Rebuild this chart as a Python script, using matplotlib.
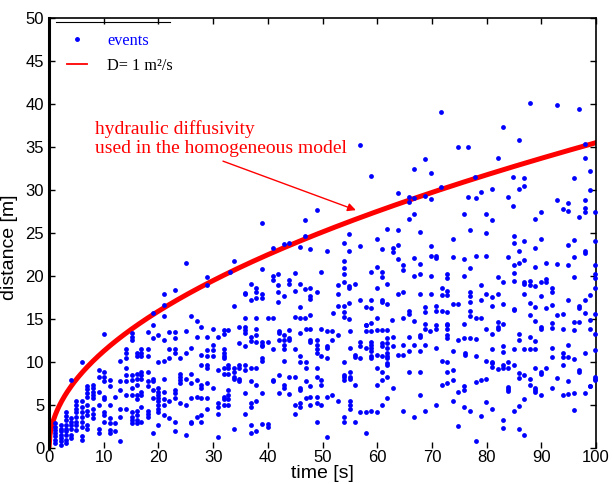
import numpy as np
import matplotlib.pyplot as plt
from matplotlib.lines import Line2D

plt.rcParams['font.family'] = 'Liberation Sans'

D = 1.0  # hydraulic diffusivity [m^2/s]

# events below ~14 m, grouped by time column [s] -> distances [m]
col_time = [1.1, 2.1, 3.1, 4.1, 5.0, 6.1, 7.0, 8.1, 9.2, 10.1,
            11.1, 12.0, 12.9, 14.0, 15.1, 16.0, 16.9, 18.1, 19.0, 20.0,
            21.0, 21.9, 23.0, 23.9, 25.0, 26.0, 27.0, 27.8, 28.9, 29.9,
            30.8, 31.9, 32.8, 33.9, 34.8, 35.8, 36.9, 37.8, 38.9, 40.0,
            41.0, 42.0, 42.9, 43.9, 45.0, 45.9, 46.9, 47.8, 48.9, 49.8,
            50.9, 51.8, 52.9, 53.9, 55.0, 55.9, 56.8, 57.9, 58.9, 59.9,
            60.9, 61.8, 62.8, 63.8, 64.8, 65.8, 66.8, 67.8, 68.8, 69.7,
            70.8, 71.8, 72.7, 73.8, 74.7, 75.8, 76.0, 77.0, 78.0, 79.0,
            79.9, 81.0, 82.0, 83.0, 83.9, 85.0, 85.9, 86.9, 88.0, 88.9,
            90.0, 90.9, 91.9, 92.9, 93.9, 94.9, 95.9, 96.9, 97.9, 98.9,
            99.9]
col_dist = [
    [2.8, 2.4, 2.0, 1.7, 1.3, 0.9, 0.5],
    [2.6, 2.2, 1.9, 1.5, 1.1, 0.7, 0.3],
    [4.1, 3.7, 3.2, 2.6, 2.2, 1.9, 1.5, 0.9, 0.5],
    [7.8, 3.4, 3.0, 2.6, 2.2, 1.5, 1.1],
    [5.4, 4.9, 4.5, 4.1, 3.6, 3.0, 2.6, 2.0],
    [9.9, 5.4, 4.7, 4.1, 3.6, 3.0, 2.4, 1.3, 0.9],
    [7.2, 6.8, 6.3, 5.9, 4.9, 4.3, 3.8, 2.6, 2.2],
    [7.3, 6.9, 6.5, 6.1, 5.8, 4.5, 3.9, 3.4],
    [9.0, 8.2, 6.5, 4.9, 2.2, 1.7],
    [13.2, 8.8, 8.2, 7.7, 5.9, 5.6, 4.1, 3.8, 3.0],
    [7.8, 7.1, 4.9, 3.4, 2.8, 2.0, 1.7],
    [5.9, 2.8, 1.9],
    [10.1, 7.7, 6.7, 4.5, 3.6, 0.7],
    [11.5, 11.0, 10.4, 9.2, 8.4, 7.7, 6.1, 4.5],
    [13.3, 12.9, 12.5, 8.4, 7.8, 6.9, 6.1, 4.1, 3.6, 3.2, 2.8],
    [11.0, 10.6, 8.6, 8.0, 7.3, 6.1, 5.6, 4.3, 3.8, 3.2, 2.8],
    [11.4, 11.0, 10.6, 8.8, 8.4, 8.0, 6.5, 6.1, 4.7, 3.0],
    [13.4, 11.4, 10.6, 8.8, 7.7, 7.1, 4.3, 3.9, 3.6],
    [14.2, 12.7, 8.0, 7.7, 6.7, 5.8, 1.7],
    [13.1, 9.9, 6.9, 6.5, 6.1, 5.8, 5.4, 4.9, 4.5, 4.1, 2.6],
    [12.5, 10.1, 8.0, 6.5, 5.6, 4.9, 3.8],
    [13.4, 11.4, 10.4, 5.4, 3.4],
    [13.4, 12.7, 11.4, 11.0, 6.7, 6.3, 5.8, 3.0, 1.9],
    [10.4, 8.6, 8.2, 7.8, 7.5, 5.2],
    [13.5, 11.0, 8.0, 4.9, 1.5],
    [11.6, 8.6, 7.5, 5.8, 3.0, 2.8],
    [12.9, 7.8, 5.9, 3.6],
    [14.0, 10.8, 9.6, 7.3, 6.9, 5.8, 3.8, 3.0],
    [12.9, 11.3, 10.6, 9.6, 9.2, 7.5, 5.8, 4.5],
    [13.8, 11.9, 11.3, 10.6, 6.9],
    [12.9, 9.0, 5.2, 4.7, 3.9, 1.2],
    [13.7, 13.2, 11.4, 11.0, 10.6, 10.4, 9.3, 8.6, 5.9, 5.6, 4.9],
    [13.7, 9.6, 9.2, 8.6, 6.7, 6.1, 5.6, 4.9],
    [9.2, 8.8, 8.2, 8.0, 2.2],
    [14.0, 12.1, 9.6, 9.2, 8.0, 7.7],
    [14.0, 13.7, 13.3, 11.8, 9.6, 9.0, 6.3, 3.9],
    [12.9, 12.4, 9.3, 7.7, 5.2, 4.7, 2.6, 1.7],
    [13.8, 13.1, 12.3, 9.2, 7.3, 5.4, 1.9],
    [12.3, 11.9, 11.8, 10.4, 10.1, 6.3, 2.7],
    [12.3, 2.7, 2.4],
    [11.4, 7.8, 7.7],
    [13.5, 13.3, 12.5, 8.4, 6.3],
    [13.1, 12.5, 11.9, 11.4, 10.1, 7.3, 6.9],
    [13.7, 12.7, 12.5, 8.2, 6.2],
    [11.4, 8.2, 4.9, 3.9],
    [13.3, 10.6, 9.9, 6.9, 6.7, 5.2, 4.7],
    [13.8, 9.9, 9.2, 7.7, 5.8],
    [13.8, 12.5, 12.3, 7.1, 5.9, 4.9],
    [12.5, 11.9, 11.4, 11.0, 9.2, 8.2, 5.9, 5.2, 3.0],
    [13.8, 10.6, 7.8, 7.3, 4.9],
    [13.5, 11.8, 11.6, 10.4, 5.9, 1.2],
    [13.5, 12.5, 6.1],
    [13.1, 5.4],
    [10.0, 8.4, 8.2, 7.8, 3.6, 3.0],
    [13.5, 11.6, 8.8, 8.2, 8.0, 5.4, 4.9, 4.5],
    [10.7, 10.5, 7.3, 3.0],
    [12.3, 11.8, 10.4, 4.1],
    [14.2, 13.5, 11.6, 4.1, 1.7],
    [13.5, 12.3, 11.9, 11.6, 11.2, 10.6, 10.4, 4.3],
    [13.7, 10.8, 9.2, 7.3, 4.1],
    [13.7, 12.1, 11.8, 10.6, 8.8, 7.8, 4.9],
    [13.7, 12.7, 12.1, 11.6, 11.0, 10.6, 10.4, 9.8, 9.6, 8.2, 5.8],
    [12.9, 11.8, 6.9],
    [10.8],
    [11.9, 10.8, 4.3],
    [12.9, 11.2, 8.8],
    [11.9, 3.6],
    [13.1, 12.9, 11.2, 8.8, 6.1],
    [13.8, 11.9, 4.2],
    [13.5],
    [13.8, 11.6, 4.9],
    [10.1, 7.3],
    [14.2, 13.8, 13.1, 12.7, 9.9, 8.8, 7.5],
    [11.2, 9.0, 7.8, 5.4],
    [12.5, 6.5, 2.5],
    [12.7, 7.1, 6.7, 4.7],
    [11.0, 10.8],
    [12.7, 4.2],
    [12.6, 10.6, 7.6, 0.7],
    [7.8, 3.7],
    [13.8, 10.1, 8.0, 5.3],
    [13.2, 11.5, 10.0, 9.8, 9.4, 4.5],
    [14.0, 13.8, 9.1],
    [11.8, 11.1, 9.6, 9.2, 3.2, 2.3],
    [9.9, 9.2, 7.0, 6.8, 6.6],
    [11.5, 9.6, 4.2],
    [13.2, 12.5, 8.7, 8.1, 4.8, 2.2],
    [11.4, 8.4, 5.6, 1.4],
    [12.8, 11.5, 8.0, 7.3],
    [12.4, 11.5, 9.2, 6.9, 6.7, 6.5],
    [14.0, 13.8, 8.8, 8.6, 6.1],
    [9.2],
    [13.9, 11.6, 10.5, 6.9],
    [8.1],
    [13.8, 11.0, 10.5, 9.6, 6.1],
    [11.9, 10.5, 7.7, 6.2],
    [13.7, 10.3, 6.3, 4.4],
    [9.0, 8.8],
    [11.0, 6.3],
    [13.8, 7.2, 7.1],
    [13.2, 11.3, 8.2, 8.0, 7.9],
]

# events above ~14 m as (time [s], distance [m])
upper_events = [
    (19.0, 15.6), (21.0, 17.9), (21.0, 16.6), (21.0, 15.3), (23.0, 18.3),
    (25.1, 21.4), (26.0, 15.3), (27.0, 14.7), (28.9, 19.8), (28.9, 18.9),
    (33.0, 20.4), (33.9, 21.7), (33.9, 16.5), (35.9, 18.0), (35.9, 17.8),
    (35.9, 15.1), (36.9, 19.0), (36.9, 17.1), (37.9, 18.5), (37.9, 18.1),
    (37.9, 17.4), (37.9, 15.1), (38.9, 26.1), (38.9, 20.8), (38.9, 17.9),
    (38.9, 17.4), (40.0, 15.1), (40.9, 23.2), (40.9, 19.9), (40.9, 19.5),
    (40.9, 15.1), (41.9, 20.2), (41.9, 18.9), (41.9, 18.1), (41.9, 16.9),
    (42.9, 23.7), (42.9, 17.6), (43.9, 23.8), (43.9, 19.5), (43.9, 19.0),
    (44.9, 20.3), (44.9, 18.2), (44.9, 15.2), (45.9, 23.3), (45.9, 19.0),
    (45.9, 16.3), (45.9, 15.1), (46.8, 26.4), (46.8, 24.6), (46.8, 18.4),
    (46.8, 15.1), (47.8, 23.1), (47.8, 18.6), (47.8, 17.6), (47.8, 17.3),
    (47.8, 15.4), (48.9, 27.6), (48.9, 18.1), (49.8, 20.4), (50.9, 22.8),
    (56.8, 35.2), (58.9, 31.6), (63.8, 29.6), (65.8, 29.1), (65.8, 28.6),
    (66.8, 32.4), (66.8, 29.0), (68.8, 33.6), (68.8, 29.2), (69.8, 31.9),
    (69.8, 28.9), (71.7, 39.0), (71.7, 30.3), (74.7, 34.9), (76.6, 34.9),
    (76.6, 29.1),
    (66.8, 27.2), (65.8, 26.6), (75.8, 27.1), (54.8, 24.8), (61.8, 25.4),
    (63.8, 25.3), (67.8, 25.1), (53.9, 23.8), (59.9, 24.2), (56.8, 23.4),
    (54.8, 22.9), (60.8, 23.1), (62.8, 23.2), (62.8, 22.7), (63.8, 23.5),
    (73.8, 24.2), (69.8, 23.4), (69.8, 22.3), (70.8, 22.3), (70.8, 22.0),
    (63.8, 21.9), (66.8, 22.0), (73.8, 22.2), (75.8, 21.9), (53.9, 21.7),
    (53.9, 20.9), (53.9, 20.2), (64.8, 21.2), (64.8, 20.6), (67.8, 21.3),
    (59.9, 21.0), (58.9, 20.4), (60.8, 20.4), (60.8, 19.8), (66.8, 19.9),
    (67.8, 20.2), (69.8, 20.0), (72.7, 20.2), (72.7, 19.7), (75.8, 20.0),
    (52.9, 18.9), (53.9, 19.3), (54.8, 18.8), (54.8, 18.6), (55.9, 19.0),
    (59.9, 18.6), (61.8, 19.0), (71.8, 18.5), (72.7, 18.2), (71.8, 17.7),
    (72.7, 17.7), (52.9, 17.9), (63.8, 17.9), (64.8, 18.1), (67.8, 17.9),
    (69.8, 17.9), (58.9, 17.2), (56.8, 17.1), (60.8, 17.2), (60.8, 16.9),
    (61.8, 16.7), (54.8, 16.8), (52.9, 16.4), (53.9, 16.5), (57.9, 16.3),
    (58.9, 16.2), (65.8, 15.9), (65.8, 15.5), (64.8, 15.1), (68.8, 16.3),
    (68.8, 15.7), (70.8, 16.5), (70.8, 15.9), (71.8, 15.9), (72.7, 15.8),
    (73.8, 16.7), (74.7, 16.7), (51.9, 15.6), (53.9, 15.7), (53.9, 15.2),
    (54.8, 15.0), (57.9, 14.3), (58.9, 14.5), (59.9, 15.1), (62.7, 14.8),
    (66.8, 14.7), (68.8, 14.4), (70.8, 14.3), (72.7, 14.4), (75.8, 14.4),
    (88.0, 40.1), (92.9, 39.8), (96.9, 39.4), (83.0, 37.3), (85.9, 35.8),
    (97.9, 35.3), (82.0, 33.7), (97.9, 33.7), (98.9, 32.1), (77.8, 31.4),
    (84.9, 31.5), (86.9, 31.3), (95.9, 31.3), (81.0, 30.1), (79.0, 29.7),
    (85.9, 30.1), (86.9, 30.4), (98.9, 30.0), (78.0, 29.0), (83.9, 29.1),
    (84.9, 28.1), (92.9, 28.8), (94.9, 28.4), (97.9, 28.8), (93.9, 27.7),
    (97.9, 27.8),
    (79.9, 27.1), (81.0, 26.5), (88.9, 26.6), (90.0, 27.4), (94.9, 27.5),
    (96.9, 26.8), (97.9, 27.4), (99.9, 27.4), (76.9, 25.3), (79.9, 25.0),
    (85.0, 24.6), (85.0, 23.8), (86.9, 24.0), (90.0, 24.2), (95.9, 24.1),
    (94.9, 23.6), (99.9, 24.0), (88.9, 23.2), (85.9, 22.9), (97.9, 22.8),
    (97.9, 22.6), (78.0, 22.3), (79.9, 22.3), (83.9, 22.2), (86.9, 21.8),
    (95.9, 22.2), (76.9, 20.9), (85.0, 21.2), (85.9, 21.4), (88.9, 21.0),
    (90.9, 21.4), (92.9, 21.3), (94.9, 21.2), (99.9, 21.2), (85.0, 20.3),
    (82.0, 19.8), (95.9, 19.8), (99.9, 20.2), (99.9, 19.7), (83.0, 19.2),
    (85.0, 19.4), (86.9, 19.2), (86.9, 19.0), (88.0, 19.4), (88.0, 18.9),
    (88.9, 18.8), (90.0, 19.3), (90.9, 19.6), (90.9, 19.3), (91.9, 18.5),
    (91.9, 18.1), (79.0, 18.9), (99.9, 18.5), (76.9, 18.1), (76.9, 17.6),
    (79.9, 17.8), (81.0, 17.5), (82.0, 17.9), (86.9, 17.8), (90.0, 17.6),
    (98.9, 17.7), (76.9, 16.9), (79.0, 17.1), (83.0, 16.7), (88.0, 16.8),
    (91.9, 16.6), (94.9, 17.2), (97.9, 17.1), (81.0, 16.4), (85.0, 16.1),
    (85.0, 16.0), (88.9, 16.3), (90.9, 16.2), (96.9, 16.4), (96.9, 16.2),
    (76.9, 15.9), (76.9, 15.3), (78.0, 15.1), (79.0, 15.1), (88.0, 15.4),
    (92.9, 15.4), (93.9, 15.5), (97.9, 15.6), (99.9, 15.5), (82.0, 14.6),
    (83.0, 14.4), (88.9, 14.7), (91.9, 14.5), (95.9, 14.6), (96.9, 14.6),
    (98.9, 14.8),
]

ev_t = []
ev_r = []
for tc, rs in zip(col_time, col_dist):
    ev_t += [tc] * len(rs)
    ev_r += rs
ev_t += [p[0] for p in upper_events]
ev_r += [p[1] for p in upper_events]

# diffusion front r = sqrt(4 pi D t)
t = np.linspace(0, 100, 600)
r = np.sqrt(4 * np.pi * D * t)

fig = plt.figure(figsize=(6.13, 4.84), dpi=100)
ax = fig.add_axes([0.08, 0.0754, 0.8923, 0.8884])

ax.plot(t, r, color='red', lw=3.6, zorder=2)
ax.scatter(ev_t, ev_r, s=12, color='blue', lw=0, zorder=3, clip_on=False)

ax.set_xlim(0, 100)
ax.set_ylim(0, 50)
ax.set_xticks(np.arange(0, 101, 10))
ax.set_yticks(np.arange(0, 51, 5))
ax.tick_params(direction='in', top=True, right=True, length=4, width=1, labelsize=12)
ax.tick_params(axis='x', pad=2)
ax.spines['left'].set_linewidth(2.2)
ax.spines['top'].set_linewidth(1.2)
ax.spines['right'].set_linewidth(1.2)
ax.spines['bottom'].set_visible(False)

ax.set_xlabel('time [s]', fontsize=14)
ax.set_ylabel('distance [m]', fontsize=14)
ax.xaxis.set_label_coords(0.5, -0.041)
ax.yaxis.set_label_coords(-0.057, 0.466)

# legend
handles = [Line2D([], [], ls='', marker='.', color='blue', markersize=5),
           Line2D([], [], color='red', lw=1.3)]
leg = ax.legend(handles, ['events', 'D= 1 m²/s'], loc='upper left',
                bbox_to_anchor=(0.021, 0.98), frameon=False,
                prop={'family': 'Liberation Serif', 'size': 11.7},
                handlelength=1.23, handletextpad=1.23, labelspacing=0.55,
                borderaxespad=0)
leg.get_texts()[0].set_color('blue')
ax.plot([0.013, 0.221], [0.9895, 0.9895], transform=ax.transAxes,
        color='black', lw=0.8)

ax.text(8.4, 38.1, 'hydraulic diffusivity\nused in the homogeneous model',
        color='red', fontsize=14, family='Liberation Serif', va='top', ha='left')
ax.annotate('', xy=(56.1, 27.6), xytext=(31.8, 33.3),
            arrowprops=dict(arrowstyle='-|>', color='red', lw=1.0,
                            mutation_scale=12, shrinkA=0, shrinkB=0))

fig.savefig('out.png', dpi=100)
